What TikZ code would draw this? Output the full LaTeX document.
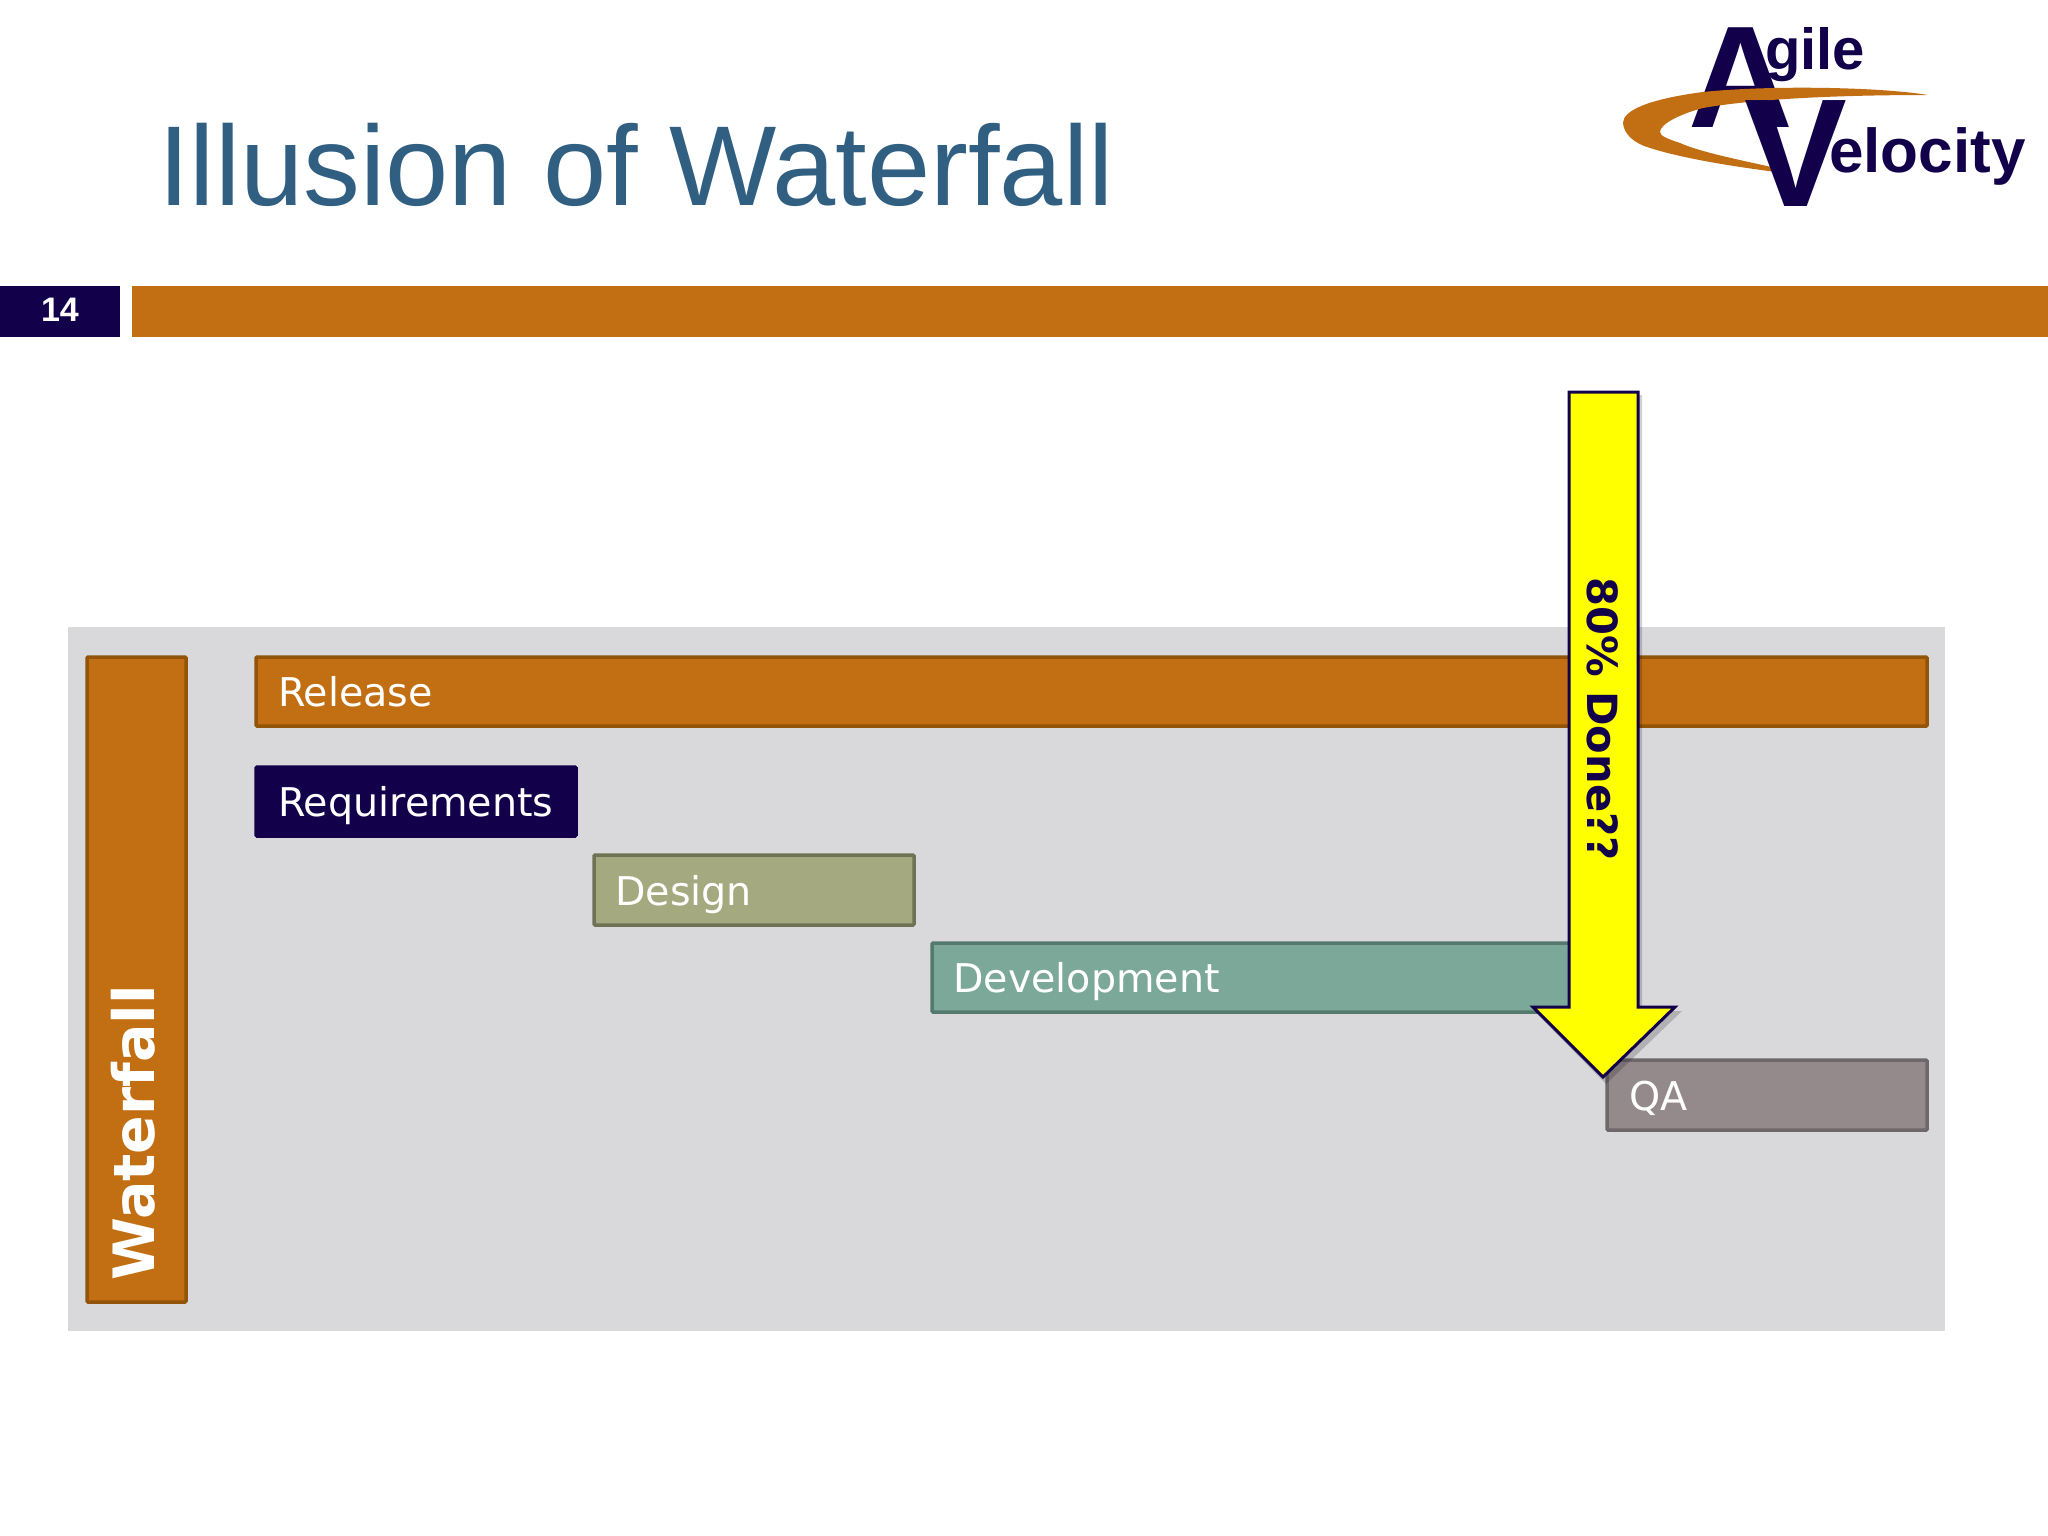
\documentclass[tikz,border=0pt]{standalone}
\usepackage{fontspec}
\setmainfont{Liberation Sans}
\newfontfamily\boxfont{DejaVu Sans}
\definecolor{ochre}{HTML}{C26E12}
\definecolor{ochreline}{HTML}{925408}
\definecolor{navy}{HTML}{12004A}
\definecolor{paneltone}{HTML}{D9D8DB}
\definecolor{titleblue}{HTML}{305F82}
\definecolor{designfill}{HTML}{A5A97F}
\definecolor{designline}{HTML}{6F7355}
\definecolor{devfill}{HTML}{7BA899}
\definecolor{devline}{HTML}{557A6D}
\definecolor{qafill}{HTML}{948A8B}
\definecolor{qaline}{HTML}{6E6869}
\definecolor{pureyellow}{HTML}{FFFF00}
\tikzset{
  px/.style={x=1pt,y=-1pt},
  taskbar/.style={line width=3.5pt,rounded corners=1pt,inner sep=0pt},
  tasklabel/.style={anchor=base west,inner sep=0pt,text=white,font=\boxfont\fontsize{39.6}{40}\selectfont},
  logotext/.style={anchor=base west,inner sep=0pt,text=navy,font=\bfseries\fontsize{#1}{#1}\selectfont},
}
\begin{document}
\begin{tikzpicture}[px]
\useasboundingbox (0,0) rectangle (2048,1536);
\fill[white] (0,0) rectangle (2048,1536);
% title
\node[anchor=base west,inner sep=0pt,text=titleblue,font=\fontsize{113.6}{114}\selectfont] (title) at (158,205) {Illusion of Waterfall};
% logo
\node[logotext=145] (logoA) at (1688,128) {A};
\node[logotext=58] (logoG) at (1765,70) {gile};
\fill[white] (1722,108) -- (1760,108) -- (1772,130) -- (1715,130) -- cycle;
\fill[ochre] (1928,95) .. controls (1880,87) and (1770,85) .. (1703,92)
  .. controls (1650,99) and (1623,110) .. (1623,123)
  .. controls (1624,135) and (1635,143) .. (1647,147)
  .. controls (1680,158) and (1730,166) .. (1776,172)
  -- (1776,168)
  .. controls (1740,160) and (1700,152) .. (1680,143)
  .. controls (1668,139) and (1660,136) .. (1660,132)
  .. controls (1660,124) and (1680,114) .. (1703,108)
  .. controls (1760,98) and (1850,95) .. (1928,95) -- cycle;
\node[logotext=154] (logoV) at (1744,206) {V};
\node[logotext=62] (logoE) at (1829,172) {elocity};
% header band
\fill[navy] (0,286) rectangle (120,337);
\node[anchor=base,inner sep=0pt,text=white,font=\bfseries\fontsize{34}{34}\selectfont] (page) at (60,321) {14};
\fill[ochre] (132,286) rectangle (2048,337);
% panel
\fill[paneltone] (68,627) rectangle (1945,1331);
% bars
\draw[taskbar,fill=ochre,draw=ochreline] (87,657) rectangle (186,1302);
\node[rotate=90,anchor=base west,inner sep=0pt,text=white,font=\boxfont\bfseries\fontsize{57}{57}\selectfont] (wf) at (154,1281) {Waterfall};
\draw[taskbar,fill=ochre,draw=ochreline] (256,657) rectangle (1927,726);
\node[tasklabel] (rel) at (278,706) {Release};
\draw[taskbar,fill=navy,draw=navy] (256,767) rectangle (576,836);
\node[tasklabel] (req) at (278,816) {Requirements};
\draw[taskbar,fill=designfill,draw=designline] (594,855) rectangle (914,925);
\node[tasklabel] (des) at (615,905) {Design};
\draw[taskbar,fill=devfill,draw=devline] (932,943) rectangle (1600,1012);
\node[tasklabel] (dev) at (953,992) {Development};
\draw[taskbar,fill=qafill,draw=qaline] (1607,1060) rectangle (1927,1130);
\node[tasklabel] (qa) at (1629,1110) {QA};
% arrow
\fill[black,opacity=.18] (1572,395) -- (1642,395) -- (1642,1011) -- (1682,1011) -- (1606,1084) -- (1534,1011) -- (1572,1011) -- cycle;
\draw[draw=navy,fill=pureyellow,line width=3pt,miter limit=10] (1569,392) -- (1638,392) -- (1638,1007) -- (1675,1007) -- (1603,1077) -- (1533,1007) -- (1569,1007) -- cycle;
\node[rotate=-90,anchor=center,inner sep=0pt,text=navy,font=\boxfont\bfseries\fontsize{41.6}{42}\selectfont] (done) at (1603,719) {80\% Done??};
\end{tikzpicture}
\end{document}
